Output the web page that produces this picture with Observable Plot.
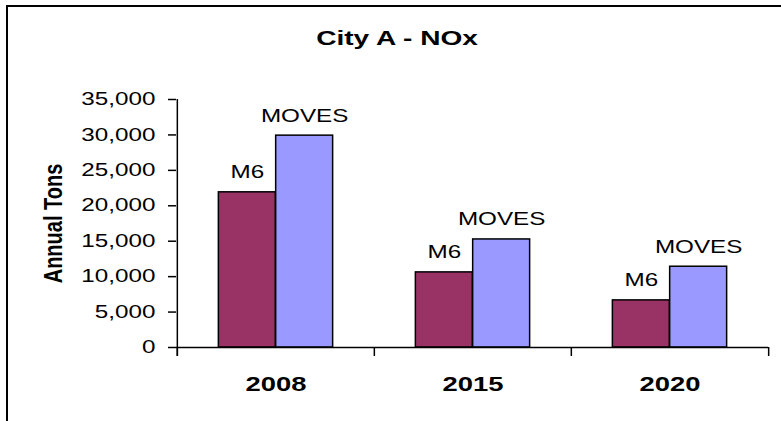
<!DOCTYPE html>
<html><head><meta charset="utf-8">
<script src="https://cdn.jsdelivr.net/npm/d3@7"></script>
<script src="https://cdn.jsdelivr.net/npm/@observablehq/plot@0.6"></script>
<style>
html,body{margin:0;padding:0;background:#fff}
#wrap{position:relative;width:781px;height:421px;overflow:hidden;background:#fff;font-family:"Liberation Sans",Arial,sans-serif}
#chart{position:absolute;left:0;top:0}
#title{position:absolute;left:0;top:26px;width:795px;text-align:center;font-size:20.5px;font-weight:bold;color:#000;line-height:normal}
#title span{display:inline-block;transform:scaleX(1.37)}
#frame{position:absolute;left:6px;top:5px;width:820px;height:460px;border:2px solid #000;pointer-events:none}
</style></head>
<body><div id="wrap"><div id="chart"></div><div id="title"><span></span></div><div id="frame"></div></div>
<script>
const title = "City A - NOx";
const yLabel = "Annual Tons";
const years = ["2008", "2015", "2020"];
const series = ["M6", "MOVES"];
const m6Values = [21900, 10600, 6650];
const movesValues = [29900, 15250, 11400];
const yTicks = [0, 5000, 10000, 15000, 20000, 25000, 30000, 35000];
const colors = ["#993366", "#9999FF"];

document.querySelector("#title span").textContent = title;

const W = 781, H = 421, mL = 176, mR = 13, mT = 99, mB = 74;
const bw = (W - mL - mR) / years.length;
const barW = 57.3;
const stretch = 1.37;
const labelStretch = 1.28;
const font = "'Liberation Sans', Arial, sans-serif";

const rows = years.flatMap((year, i) => [
  {year, series: series[0], value: m6Values[i]},
  {year, series: series[1], value: movesValues[i]}
]);
const m6Rows = rows.filter(d => d.series === series[0]);
const movesRows = rows.filter(d => d.series === series[1]);

const svg = Plot.plot({
  width: W, height: H,
  marginLeft: mL, marginRight: mR, marginTop: mT, marginBottom: mB,
  style: {background: "transparent", fontFamily: font, color: "black"},
  x: {type: "band", domain: years, padding: 0},
  y: {domain: [0, yTicks[yTicks.length - 1]]},
  marks: [
    Plot.barY(m6Rows, {x: "year", y: "value", fill: colors[0], stroke: "black", strokeWidth: 1.5,
      insetLeft: bw / 2 - barW, insetRight: bw / 2}),
    Plot.barY(movesRows, {x: "year", y: "value", fill: colors[1], stroke: "black", strokeWidth: 1.5,
      insetLeft: bw / 2, insetRight: bw / 2 - barW}),
    Plot.text(m6Rows, {x: "year", y: "value", text: "series", dx: -barW / 2, dy: -14,
      lineAnchor: "bottom", fontSize: 17.7, fill: "black"}),
    Plot.text(movesRows, {x: "year", y: "value", text: "series", dx: barW / 2, dy: -14,
      lineAnchor: "bottom", fontSize: 17.7, fill: "black"}),
    Plot.ruleY([0], {stroke: "black", strokeWidth: 1.5}),
    Plot.ruleX([years[0]], {dx: -bw / 2, y1: yTicks[yTicks.length - 1], y2: 0, insetBottom: -9,
      stroke: "black", strokeWidth: 1.5}),
    Plot.ruleX(years, {dx: -bw / 2, y1: 0, y2: 0, insetBottom: -9, stroke: "black", strokeWidth: 1.5}),
    Plot.ruleX([years[years.length - 1]], {dx: bw / 2, y1: 0, y2: 0, insetBottom: -9,
      stroke: "black", strokeWidth: 1.5}),
    Plot.axisY({ticks: yTicks, tickFormat: d3.format(","), tickSize: 8, tickPadding: 13,
      fontSize: 17.7, label: null, stroke: "black", strokeWidth: 1.5}),
    Plot.axisX({tickSize: 0, tickPadding: 29, fontSize: 20, fontWeight: "bold", label: null}),
    Plot.text([yLabel], {frameAnchor: "left", textAnchor: "middle", rotate: -90, dx: -123, fontSize: 20,
      fontWeight: "bold", fill: "black"})
  ]
});

for (const t of svg.querySelectorAll("text")) {
  let tr = t.getAttribute("transform") || "";
  const x = +t.getAttribute("x") || 0, y = +t.getAttribute("y") || 0;
  if (x || y) { t.removeAttribute("x"); t.removeAttribute("y"); tr += ` translate(${x},${y})`; }
  tr += tr.includes("rotate") ? ` scale(1,${labelStretch})` : ` scale(${stretch},1)`;
  t.setAttribute("transform", tr.trim());
}
document.getElementById("chart").appendChild(svg);
</script>
</body></html>
